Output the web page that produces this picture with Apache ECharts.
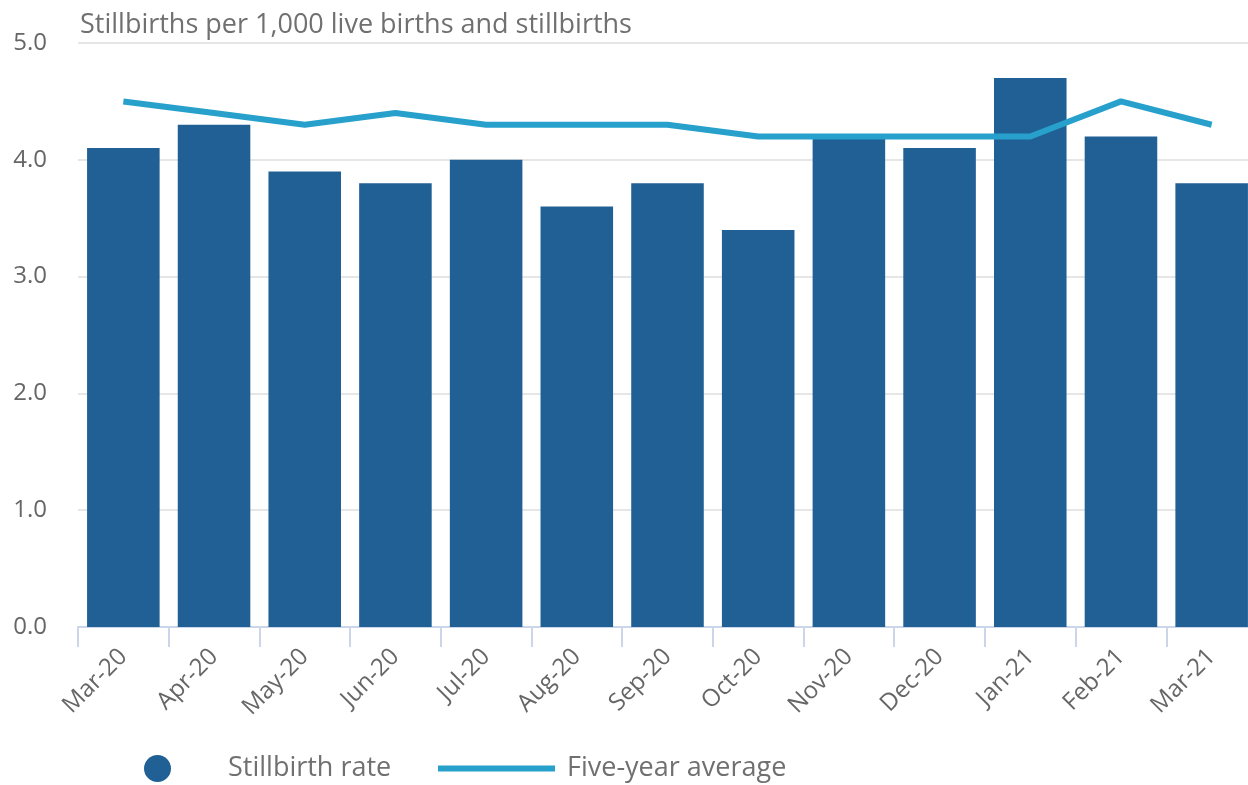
<!DOCTYPE html>
<html>
<head>
<meta charset="utf-8">
<script src="https://cdn.jsdelivr.net/npm/echarts@6/dist/echarts.min.js"></script>
<style>
html,body{margin:0;padding:0;background:#fff;}
#chart{width:1248px;height:785px;}
</style>
</head>
<body>
<div id="chart"></div>
<script>
var categories = ['Mar-20','Apr-20','May-20','Jun-20','Jul-20','Aug-20','Sep-20','Oct-20','Nov-20','Dec-20','Jan-21','Feb-21','Mar-21'];
var stillbirthRate = [4.1, 4.3, 3.9, 3.8, 4.0, 3.6, 3.8, 3.4, 4.2, 4.1, 4.7, 4.2, 3.8];
var fiveYearAverage = [4.5, 4.4, 4.3, 4.4, 4.3, 4.3, 4.3, 4.2, 4.2, 4.2, 4.2, 4.5, 4.3];
var yTicks = [0, 1, 2, 3, 4, 5];

var FONT = '"Open Sans", "Noto Sans", sans-serif';
var chart = echarts.init(document.getElementById('chart'));
chart.setOption({
  animation: false,
  title: {
    text: 'Stillbirths per 1,000 live births and stillbirths',
    left: 75, top: 7,
    textStyle: {fontFamily: FONT, fontSize: 27, fontWeight: 'normal', color: '#707070'}
  },
  legend: [{
    data: [{name: 'Stillbirth rate', icon: 'circle'}],
    left: 139, top: 750,
    itemWidth: 27, itemHeight: 27,
    textStyle: {fontFamily: FONT, fontSize: 27, color: '#707070', padding: [0, 0, 0, 52]}
  }, {
    data: [{name: 'Five-year average', icon: 'rect'}],
    left: 433, top: 750,
    itemWidth: 117, itemHeight: 6,
    textStyle: {fontFamily: FONT, fontSize: 27, color: '#707070', padding: [0, 0, 0, 7]}
  }],
  grid: {left: 78, top: 43, width: 1179, height: 584, outerBoundsMode: 'none', containLabel: false},
  xAxis: {
    type: 'category',
    data: categories,
    boundaryGap: true,
    axisLine: {lineStyle: {color: '#ccd6eb', width: 2}},
    axisTick: {show: true, length: 20, lineStyle: {color: '#ccd6eb', width: 2}},
    axisLabel: {rotate: 45, margin: 26, fontFamily: FONT, fontSize: 24, color: '#666666', interval: 0}
  },
  yAxis: {
    type: 'value',
    min: yTicks[0], max: yTicks[yTicks.length - 1], interval: 1,
    axisLine: {show: false},
    axisTick: {show: false},
    axisLabel: {margin: 31, fontFamily: FONT, fontSize: 24, color: '#666666', formatter: function (v) { return v.toFixed(1); }},
    splitLine: {lineStyle: {color: '#e6e6e6', width: 2}}
  },
  series: [{
    name: 'Stillbirth rate',
    type: 'bar',
    data: stillbirthRate,
    barCategoryGap: '20%',
    itemStyle: {color: '#206095'}
  }, {
    name: 'Five-year average',
    type: 'line',
    data: fiveYearAverage,
    symbol: 'none',
    lineStyle: {color: '#27a0cc', width: 6},
    itemStyle: {color: '#27a0cc'}
  }]
});
</script>
</body>
</html>
